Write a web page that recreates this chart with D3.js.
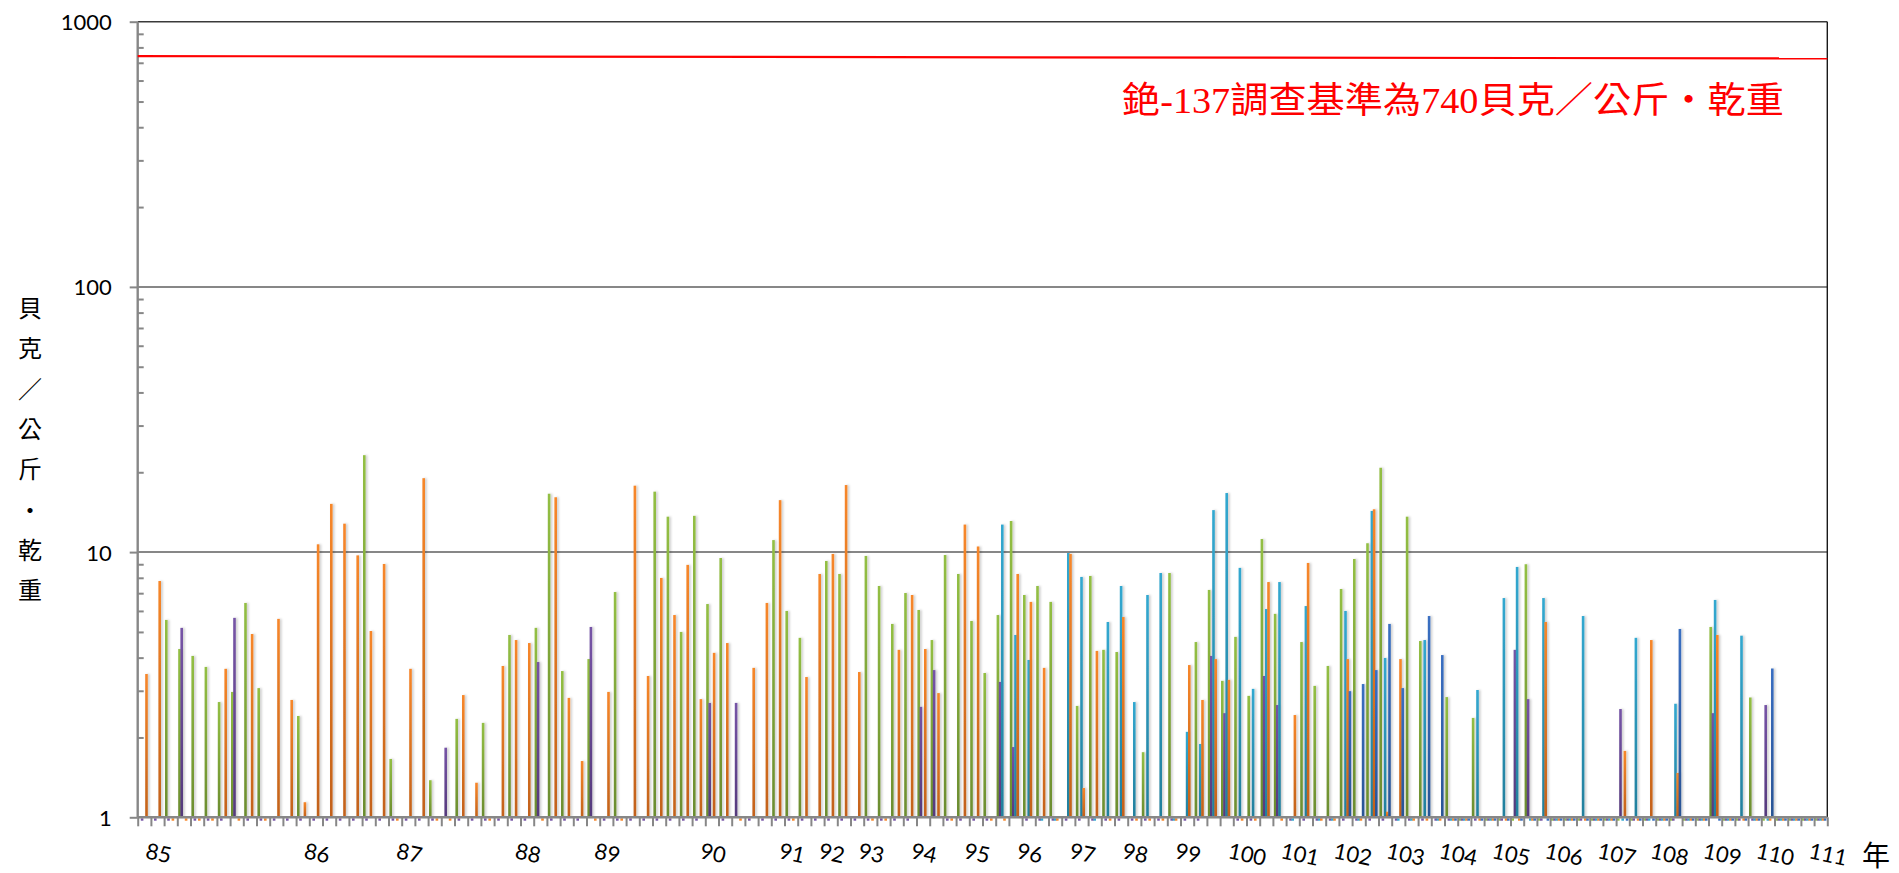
<!DOCTYPE html>
<html><head><meta charset="utf-8">
<script src="https://cdn.jsdelivr.net/npm/d3@7"></script>
<style>
html,body{margin:0;padding:0;background:#fff;}
svg{display:block;}
</style></head>
<body>
<svg id="chart" width="1899" height="873"></svg>
<script>
// ---------------- DATA ----------------
const categoryCount = 128;   // sampling rounds (categories)
// year labels: [label, category index]
const yearLabels = [["85",1],["86",13],["87",20],["88",29],["89",35],["90",43],["91",49],["92",52],["93",55],["94",59],["95",63],["96",67],["97",71],["98",75],["99",79],["100",83],["101",87],["102",91],["103",95],["104",99],["105",103],["106",107],["107",111],["108",115],["109",119],["110",123],["111",127]];
const seriesNames = ["green","purple","teal","orange","blue"];
// [category index, Bq/kg dry]
const greenValues = [[2,5.55],[3,4.31],[4,4.06],[5,3.69],[6,2.72],[7,2.97],[8,6.43],[9,3.07],[12,2.41],[17,23.2],[19,1.66],[22,1.38],[24,2.35],[26,2.27],[28,4.87],[30,5.18],[31,16.6],[32,3.56],[34,3.95],[36,7.07],[39,16.9],[40,13.6],[41,5.0],[42,13.7],[43,6.37],[44,9.5],[48,11.1],[49,6.0],[50,4.75],[52,9.26],[53,8.27],[55,9.67],[56,7.45],[57,5.36],[58,7.01],[59,6.05],[60,4.66],[61,9.75],[62,8.27],[63,5.5],[64,3.5],[65,5.79],[66,13.1],[67,6.89],[68,7.45],[69,6.49],[71,2.63],[72,8.13],[73,4.28],[74,4.2],[76,1.76],[78,8.34],[80,4.58],[81,7.2],[82,3.27],[83,4.79],[84,2.87],[85,11.2],[86,5.85],[88,4.58],[89,3.13],[90,3.72],[91,7.26],[92,9.42],[93,10.8],[94,20.8],[96,13.6],[97,4.62],[99,2.84],[101,2.37],[105,9.0],[119,5.22],[122,2.83]];
const purpleValues = [[3,5.18],[7,5.65],[23,1.83],[30,3.85],[34,5.22],[43,2.70],[45,2.70],[59,2.61],[60,3.59],[65,3.24],[66,1.84],[81,4.06],[82,2.47],[85,3.41],[86,2.65],[104,4.28],[105,2.79],[112,2.56],[119,2.47],[123,2.65]];
const tealValues = [[65,12.7],[66,4.87],[67,3.92],[70,9.92],[71,8.06],[73,5.45],[74,7.45],[75,2.72],[76,6.89],[77,8.34],[79,2.1],[80,1.89],[81,14.4],[82,16.7],[83,8.72],[84,3.05],[85,6.1],[86,7.71],[88,6.26],[91,6.0],[93,14.3],[94,3.99],[97,4.66],[101,3.02],[103,6.71],[104,8.79],[106,6.71],[109,5.74],[113,4.75],[116,2.68],[119,6.6],[121,4.84]];
const orangeValues = [[0,3.47],[1,7.78],[6,3.63],[8,4.91],[10,5.6],[11,2.77],[12,1.14],[13,10.7],[14,15.2],[15,12.8],[16,9.72],[17,5.04],[18,9.02],[20,3.63],[21,19.0],[24,2.89],[25,1.35],[27,3.72],[28,4.66],[29,4.54],[31,16.1],[32,2.82],[33,1.63],[35,2.97],[37,17.8],[38,3.41],[39,7.99],[40,5.79],[41,8.95],[42,2.79],[43,4.17],[44,4.54],[46,3.66],[47,6.43],[48,15.7],[50,3.38],[51,8.27],[52,9.84],[53,17.9],[54,3.53],[57,4.28],[58,6.89],[59,4.31],[60,2.94],[62,12.7],[63,10.5],[66,8.27],[67,6.49],[68,3.66],[70,9.84],[71,1.29],[72,4.24],[74,5.69],[79,3.75],[80,2.77],[81,3.95],[82,3.30],[85,7.71],[87,2.43],[88,9.1],[91,3.95],[93,14.5],[94,1.05],[95,3.95],[106,5.45],[112,1.78],[114,4.66],[116,1.47],[119,4.87]];
const blueValues = [[91,2.99],[92,3.18],[93,3.59],[94,5.36],[95,3.07],[97,5.74],[98,4.09],[116,5.13],[123,3.64]];
// first category from which each series reports "not detected" (below 1) results
const ndFrom = {green:99, purple:0, teal:65, orange:0, blue:99};
const limitValues = [742, 727];   // Cs-137 screening level line (left, right)
const limitText = "銫-137調查基準為740貝克／公斤・乾重";
const yTickValues = [1,10,100,1000];
const yAxisTitle = ["貝","克","／","公","斤","・","乾","重"];
const xAxisTitle = "年";

const seriesData = {green:greenValues, purple:purpleValues, teal:tealValues, orange:orangeValues, blue:blueValues};
const colors = {
  green:["#93bf44","#6b8c2f"],
  purple:["#7654a6","#553a7c"],
  teal:["#33a8d0","#237f9c"],
  orange:["#f7872a","#c2611a"],
  blue:["#3a6fc2","#2a5494"]
};

// ---------------- LAYOUT ----------------
const L=137.7, R=1827.3, T=21.7, B=817.3;
const svg = d3.select("#chart");
const defs = svg.append("defs");
seriesNames.forEach(s=>{
  const g = defs.append("linearGradient").attr("id","g-"+s).attr("x1",0).attr("y1",0).attr("x2",0).attr("y2",1);
  g.append("stop").attr("offset","0%").attr("stop-color",colors[s][0]);
  g.append("stop").attr("offset","100%").attr("stop-color",colors[s][1]);
});
const f = defs.append("filter").attr("id","shadow").attr("x","-50%").attr("y","-5%").attr("width","300%").attr("height","110%");
f.append("feDropShadow").attr("dx",1.6).attr("dy",0).attr("stdDeviation",1.3).attr("flood-color","#000").attr("flood-opacity",0.22);

const x = d3.scaleBand().domain(d3.range(categoryCount)).range([L,R]).padding(0);
const xs = d3.scaleBand().domain(seriesNames).range([0,x.bandwidth()]).paddingInner(0).paddingOuter(0.5);
const xb = d3.scaleLinear().domain([0,categoryCount]).range([L,R]);
const y = d3.scaleLog().domain([1,1000]).range([B,T]);

const grey="#878787";

// gridlines
svg.append("g").selectAll("line").data([10,100]).join("line")
  .attr("x1",L).attr("x2",R).attr("y1",d=>y(d)).attr("y2",d=>y(d))
  .attr("stroke",grey).attr("stroke-width",2);

// ND stubs (values below 1 show just under the axis)
const stubs=[];
seriesNames.forEach(s=>{
  const has = new Set(seriesData[s].map(d=>d[0]));
  for(let c=ndFrom[s]; c<categoryCount; c++) if(!has.has(c)) stubs.push({s,c});
});
svg.append("g").selectAll("rect").data(stubs).join("rect")
  .attr("x",d=>x(d.c)+xs(d.s)-0.2).attr("width",xs.bandwidth()+0.4)
  .attr("y",B+1).attr("height",2.4)
  .attr("fill",d=>colors[d.s][0]);

// bars
const bars=[];
seriesNames.forEach(s=>seriesData[s].forEach(([c,v])=>bars.push({s,c,v})));
svg.append("g").attr("filter","url(#shadow)").selectAll("rect").data(bars).join("rect")
  .attr("x",d=>x(d.c)+xs(d.s)-0.2).attr("width",xs.bandwidth()+0.4)
  .attr("y",d=>y(d.v)).attr("height",d=>B-y(d.v))
  .attr("fill",d=>`url(#g-${d.s})`);

// plot border top/right
svg.append("line").attr("x1",L).attr("x2",R).attr("y1",T).attr("y2",T).attr("stroke","#3a3a3a").attr("stroke-width",1.6);
svg.append("line").attr("x1",R).attr("x2",R).attr("y1",T).attr("y2",B).attr("stroke","#1a1a1a").attr("stroke-width",1.4);

// x axis
const xAxis = svg.append("g").attr("transform",`translate(0,${B})`)
  .call(d3.axisBottom(xb).tickValues(d3.range(categoryCount+1)).tickSize(9).tickFormat(""));
xAxis.select(".domain").attr("stroke",grey).attr("stroke-width",2.4).attr("d",`M${L},0H${R}`);
xAxis.selectAll(".tick line").attr("stroke",grey).attr("stroke-width",2);

// y axis (major ticks outside, minor inside)
const yAxis = svg.append("g").attr("transform",`translate(${L},0)`)
  .call(d3.axisLeft(y).tickValues(yTickValues).tickSize(8).tickPadding(18).tickFormat(d3.format("d")));
yAxis.select(".domain").attr("stroke",grey).attr("stroke-width",2.4).attr("d",`M0,${T}V${B}`);
yAxis.selectAll(".tick line").attr("stroke",grey).attr("stroke-width",2);
yAxis.selectAll(".tick text").attr("font-family","Lato, 'Open Sans', sans-serif").attr("font-size",22).attr("fill","#000").attr("dy","0.36em");
const minor=[];
[1,10,100].forEach(d=>{for(let k=2;k<=9;k++) minor.push(d*k);});
const yMinor = svg.append("g").attr("transform",`translate(${L},0)`)
  .call(d3.axisRight(y).tickValues(minor).tickSize(6).tickFormat(""));
yMinor.select(".domain").remove();
yMinor.selectAll(".tick line").attr("stroke",grey).attr("stroke-width",2);

// limit line
svg.append("line").attr("x1",L).attr("x2",R)
  .attr("y1",y(limitValues[0])).attr("y2",y(limitValues[1]))
  .attr("stroke","#ff0000").attr("stroke-width",2.2);
svg.append("text").attr("x",1453).attr("y",113).attr("text-anchor","middle")
  .attr("font-family","'Liberation Serif','Noto Sans CJK TC',serif").attr("font-size",36)
  .attr("fill","#ff0000").attr("textLength",662).attr("lengthAdjust","spacingAndGlyphs")
  .text(limitText);

// year labels
svg.append("g").selectAll("text").data(yearLabels).join("text")
  .attr("transform",d=>{const px=x(d[1])+x.bandwidth()/2-13, py=858; return `translate(${px},${py}) rotate(12)`;})
  .attr("font-family","Lato, 'Open Sans', sans-serif").attr("font-size",22).attr("fill","#000")
  .text(d=>d[0]);

// axis titles
svg.append("g").selectAll("text").data(yAxisTitle).join("text")
  .attr("x",30).attr("y",(d,i)=>317+i*40.3).attr("text-anchor","middle")
  .attr("font-family","'Noto Sans CJK TC',sans-serif").attr("font-size",24).attr("fill","#000")
  .text(d=>d);
svg.append("text").attr("x",1876).attr("y",866).attr("text-anchor","middle")
  .attr("font-family","'Noto Sans CJK TC',sans-serif").attr("font-size",28).attr("fill","#000")
  .text(xAxisTitle);
</script>
</body></html>
